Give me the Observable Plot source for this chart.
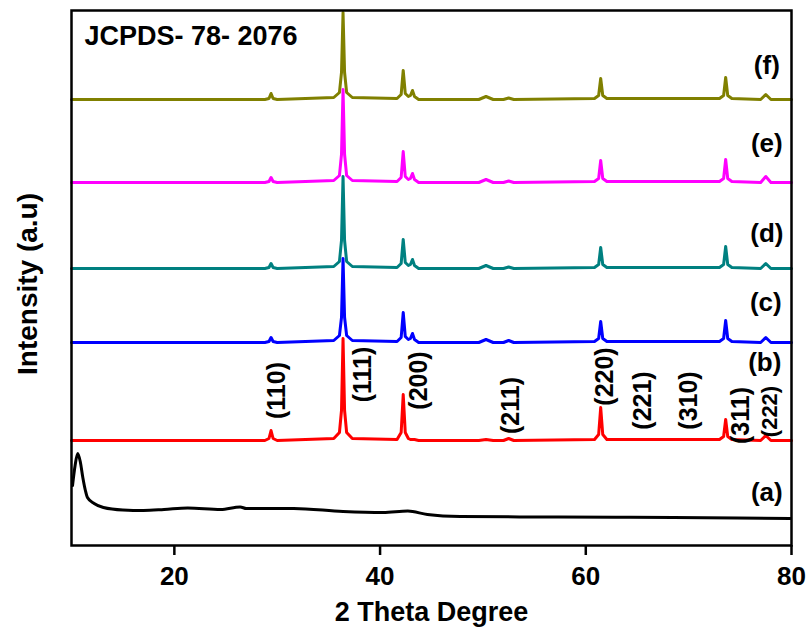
<!DOCTYPE html>
<html><head><meta charset="utf-8">
<script src="https://cdn.jsdelivr.net/npm/d3@7"></script>
<script src="https://cdn.jsdelivr.net/npm/@observablehq/plot@0.6"></script>
<style>body{margin:0;background:#fff}</style>
</head><body><div id="chart"></div>
<script>
// 2θ grid shared by the crystalline patterns (b)–(f)
const twoTheta = [10, 28.8, 29.2, 29.4, 29.6, 30.0, 35.5, 36.05, 36.25, 36.4, 36.55, 36.75, 37.3,
  41.65, 42.05, 42.25, 42.45, 42.75, 42.95, 43.15, 43.35, 43.75, 49.6, 50.3, 51.0, 52.0, 52.5, 53.0,
  60.85, 61.25, 61.45, 61.65, 62.05, 73.0, 73.4, 73.6, 73.8, 74.2, 77.0, 77.5, 78.0, 80];

// net intensities (a.u.)
const intensityB = [0, 0,2,10,2,0, 2,8,30,102,30,8,2, 1,8,46,8,2,1,1,1,0, 0,1,0, 0,2,0, 1,6,33,6,1, 1,4,21,4,1, 0,5,0, 0];
const intensityC = [0, 0,1,5,1,0, 2,7,25,84,25,7,2, 1,5,30,6,3,4,9,3,0, 0,3,0, 0,2,0, 1,4,21,4,1, 1,4,22,4,1, 0,5,0, 0];
const intensityD = [0, 0,1,5,1,0, 2,7,28,92,28,7,2, 1,5,29,6,3,4,9,3,0, 0,3,0, 0,1.5,0, 1,4,21,4,1, 1,4,22,4,1, 0,5,0, 0];
const intensityE = [0, 0,1,5,1,0, 2,7,28,93,28,7,2, 1,5,31,6,3,4,9,3,0, 0,3,0, 0,1.5,0, 1,4,22,4,1, 1,4,23,4,1, 0,6,0, 0];
const intensityF = [0, 0,1,6,1,0, 2,7,27,87,27,7,2, 1,5,29,6,3,4,9,3,0, 0,3,0, 0,1.5,0, 1,4,21,4,1, 1,4,22,4,1, 0,5,0, 0];

// amorphous pattern (a)
const twoThetaA = [10.1, 10.35, 10.6, 10.85, 11.1, 11.35, 11.55, 12.2, 13.1, 15, 17, 19, 21.3, 24.5, 26.4, 27, 31.6, 36.4, 40.3, 42.7, 44.6, 47.8, 55.6, 68.5, 79.9];
const intensityA = [60, 80, 92, 84, 68, 55, 48, 42, 38, 35.5, 35, 36, 37.5, 36, 38.5, 37, 37, 34, 33, 34.5, 31, 29, 28.5, 28, 27];

const sampleKeys = ["(f)", "(e)", "(d)", "(c)", "(b)", "(a)"];
const sampleColors = ["#808000", "#ff00ff", "#008080", "#0000ff", "#ff0000", "#000000"];
const stackOffsets = [446, 363, 277, 203, 105, 0];
const sampleLabelY = [480, 402, 312, 243, 183, 53];
const sampleLabelX = [77.6, 77.6, 77.6, 77.5, 77.4, 77.6];

const hklLabels = ["(110)", "(111)", "(200)", "(211)", "(220)", "(221)", "(310)", "(311)", "(222)"];
const hklX = [29.95, 38.3, 43.75, 52.7, 61.9, 65.6, 70.0, 75.05, 77.95];
const hklY = [155, 171, 165, 140, 169, 145, 145, 130, 134];
const hklSize = [25, 25, 25, 25, 25, 25, 25, 25, 22];

const xTicks = [20, 40, 60, 80];

const crystalline = [intensityF, intensityE, intensityD, intensityC, intensityB];
const rows = [];
crystalline.forEach((vals, k) => {
  vals.forEach((v, i) => rows.push({x: twoTheta[i], y: v + stackOffsets[k], key: sampleKeys[k]}));
});
intensityA.forEach((v, i) => rows.push({x: twoThetaA[i], y: v + stackOffsets[5], key: sampleKeys[5]}));

const sampleLabels = sampleKeys.map((k, i) => ({t: k, x: sampleLabelX[i], y: sampleLabelY[i]}));
const hkl = hklLabels.map((t, i) => ({t, x: hklX[i], y: hklY[i], s: hklSize[i]}));

const chart = Plot.plot({
  width: 806, height: 628,
  marginLeft: 71, marginRight: 15, marginTop: 10, marginBottom: 83,
  style: {fontFamily: "'Liberation Sans', Arial, sans-serif", fontWeight: "bold", background: "white", color: "black"},
  x: {domain: [10, 80]},
  y: {domain: [0, 535], axis: null},
  color: {domain: sampleKeys, range: sampleColors},
  marks: [
    Plot.line(rows.filter(d => d.key !== "(a)"), {x: "x", y: "y", z: "key", stroke: "key", strokeWidth: 3, curve: "linear"}),
    Plot.line(rows.filter(d => d.key === "(a)"), {x: "x", y: "y", stroke: "key", strokeWidth: 3, curve: "monotone-x"}),
    Plot.frame({stroke: "black", strokeWidth: 2.5}),
    Plot.axisX({ticks: xTicks, tickSize: 10, tickPadding: 11, fontSize: 26, label: null, strokeWidth: 2.5, fontWeight: "bold"}),
    Plot.text(sampleLabels, {x: "x", y: "y", text: "t", fontSize: 26, fontWeight: "bold", fill: "black"}),
    Plot.text(hkl.filter(d => d.s === 25), {x: "x", y: "y", text: "t", rotate: -90, fontSize: 25, fontWeight: "bold", fill: "black"}),
    Plot.text(hkl.filter(d => d.s === 22), {x: "x", y: "y", text: "t", rotate: -90, fontSize: 22, fontWeight: "bold", fill: "black"}),
    Plot.text(["JCPDS- 78- 2076"], {frameAnchor: "top-left", dx: 13, dy: 15, text: d => d, textAnchor: "start", lineAnchor: "top", fontSize: 27, fontWeight: "bold", fill: "black"}),
    Plot.text(["2 Theta Degree"], {frameAnchor: "bottom", dy: 67, text: d => d, lineAnchor: "middle", fontSize: 27, fontWeight: "bold", fill: "black"}),
    Plot.text(["Intensity (a.u)"], {frameAnchor: "left", dx: -43, dy: 6, text: d => d, rotate: -90, textAnchor: "middle", lineAnchor: "middle", fontSize: 28, fontWeight: "bold", fill: "black"})
  ]
});
document.getElementById("chart").appendChild(chart);
</script>
</body></html>
